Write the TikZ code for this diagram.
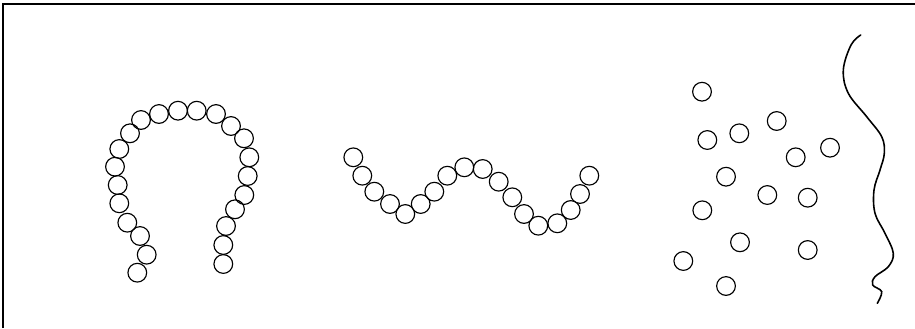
\documentclass[tikz,border=0pt]{standalone}
\usepackage{tikz}
\usetikzlibrary{positioning}

\begin{document}
\begin{tikzpicture}[
  x=0.02cm, y=-0.02cm,
  bead/.style={circle, draw, line width=0.65pt, inner sep=0pt, minimum size=0.375cm},
  frame/.style={line width=1.2pt},
  chain/.style={line width=0.9pt, line cap=round}
]
\useasboundingbox (0,0) rectangle (915,328);

% Frame (top and left edges)
\draw[frame] (3,328) -- (3,4) -- (915,4);

% Folded chain (horseshoe)
\node[bead] (h1)  at (137.3,272.7) {};
\node[bead] (h2)  at (146.7,254.7) {};
\node[bead] (h3)  at (140.0,236.0) {};
\node[bead] (h4)  at (127.3,222.7) {};
\node[bead] (h5)  at (119.3,203.3) {};
\node[bead] (h6)  at (117.7,185.0) {};
\node[bead] (h7)  at (115.0,166.7) {};
\node[bead] (h8)  at (119.3,149.0) {};
\node[bead] (h9)  at (130.0,133.3) {};
\node[bead] (h10) at (141.0,120.0) {};
\node[bead] (h11) at (159.0,114.0) {};
\node[bead] (h12) at (178.0,110.7) {};
\node[bead] (h13) at (196.7,110.7) {};
\node[bead] (h14) at (216.0,114.0) {};
\node[bead] (h15) at (231.0,126.0) {};
\node[bead] (h16) at (244.0,138.3) {};
\node[bead] (h17) at (249.3,157.3) {};
\node[bead] (h18) at (247.7,176.0) {};
\node[bead] (h19) at (244.3,195.0) {};
\node[bead] (h20) at (235.0,209.3) {};
\node[bead] (h21) at (226.0,226.0) {};
\node[bead] (h22) at (223.3,245.0) {};
\node[bead] (h23) at (223.3,264.0) {};

% Wavy chain
\node[bead] (w1)  at (353.3,157.3) {};
\node[bead] (w2)  at (362.3,175.7) {};
\node[bead] (w3)  at (374.3,191.7) {};
\node[bead] (w4)  at (390.0,204.0) {};
\node[bead] (w5)  at (405.3,214.0) {};
\node[bead] (w6)  at (420.7,204.0) {};
\node[bead] (w7)  at (434.3,191.7) {};
\node[bead] (w8)  at (447.3,175.7) {};
\node[bead] (w9)  at (464.3,167.3) {};
\node[bead] (w10) at (482.7,169.0) {};
\node[bead] (w11) at (498.7,181.7) {};
\node[bead] (w12) at (512.3,197.3) {};
\node[bead] (w13) at (524.0,214.0) {};
\node[bead] (w14) at (538.3,225.7) {};
\node[bead] (w15) at (557.3,223.3) {};
\node[bead] (w16) at (570.7,210.0) {};
\node[bead] (w17) at (580.0,194.0) {};
\node[bead] (w18) at (589.3,175.7) {};

% Free beads
\node[bead] (f1)  at (702.0,91.7)  {};
\node[bead] (f2)  at (776.7,121.0) {};
\node[bead] (f3)  at (739.3,133.3) {};
\node[bead] (f4)  at (707.3,140.0) {};
\node[bead] (f5)  at (830.0,147.7) {};
\node[bead] (f6)  at (795.7,157.3) {};
\node[bead] (f7)  at (726.0,176.7) {};
\node[bead] (f8)  at (767.3,195.0) {};
\node[bead] (f9)  at (807.7,197.7) {};
\node[bead] (f10) at (702.3,210.3) {};
\node[bead] (f11) at (740.0,242.3) {};
\node[bead] (f12) at (807.7,250.0) {};
\node[bead] (f13) at (683.3,261.0) {};
\node[bead] (f14) at (726.0,286.0) {};

% Continuous strand
\draw[chain] plot[smooth, tension=0.6] coordinates {
  (860.7,35) (851,45) (843.3,70) (848.3,93.3) (866.7,116.7) (881.7,136.7)
  (884.3,153.3) (880,170) (874,190) (875,213.3) (885,233.3) (893.3,253.3)
  (888.3,266.7) (875,276.7) (872.7,285) (881.7,291.7) (877.3,303.3)};

\end{tikzpicture}
\end{document}
